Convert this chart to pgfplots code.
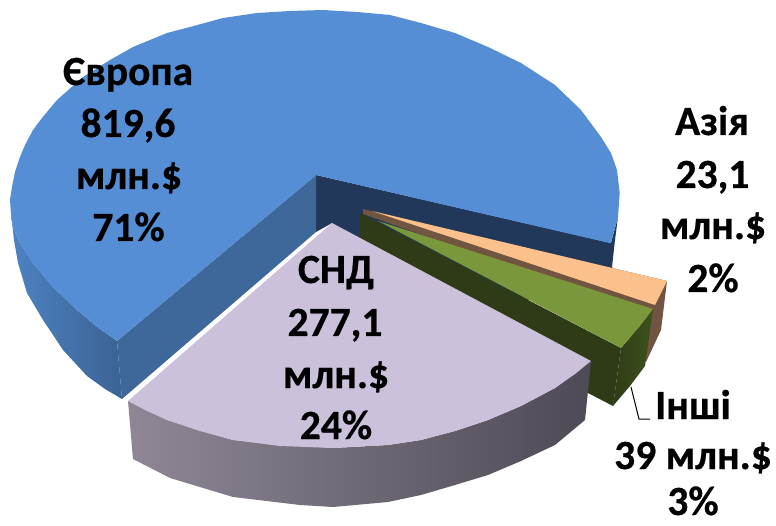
\documentclass[border=0pt]{standalone}
\usepackage{pgfplots}
\pgfplotsset{compat=1.18}
\usepackage{fontspec}
\setmainfont[BoldFeatures={FakeBold=0.6}]{Carlito}
\definecolor{eutop}{HTML}{558ED5}
\definecolor{euinner}{HTML}{3E6899}
\definecolor{euback}{HTML}{21385A}
\definecolor{euwalla}{HTML}{4D82C2}
\definecolor{euwallb}{HTML}{3B6394}
\definecolor{astop}{HTML}{FCC08C}
\definecolor{asdark}{HTML}{725540}
\definecolor{grtop}{HTML}{7A983B}
\definecolor{grdark}{HTML}{2F3B16}
\definecolor{grwall}{HTML}{3D521D}
\definecolor{litop}{HTML}{CCC1DA}
\definecolor{liwalla}{HTML}{8F8796}
\definecolor{liwallb}{HTML}{4E4A55}
\newcommand{\lab}[3]{\node[anchor=base,inner sep=0pt,font=\fontsize{41.5}{41.5}\selectfont\bfseries] at (axis cs:#1,#2) {#3};}
\begin{document}
\begin{tikzpicture}
\begin{axis}[scale only axis,width=776pt,height=526pt,xmin=0,xmax=776,ymin=0,ymax=526,
  y dir=reverse,hide axis,clip=false]
\path (axis cs:0,0) rectangle (axis cs:776,526);
% Europe back wall
\addplot[draw=none,fill=euback] coordinates {(316,175)(611,243)(618,217)(615,240)(612,267)(640,300)(360,300)(332,223)(316,232)} -- cycle;
% Europe inner face
\addplot[draw=none,fill=euinner] coordinates {(316,175)(316,232)(122,399)(117,341)} -- cycle;
% Europe outer wall
\addplot[draw=none,left color=euwalla,right color=euwallb] coordinates {(11,214)(13,227)(20,243)(33,263)(53,287)(77,310)(96,326)(117,341)(122,399)(105,389)(87,376)(63,350)(43,320)(27,293)(18,263)(14,240)} -- cycle;
% Europe top
\addplot[draw=none,fill=eutop] coordinates {(316,175)(610.7,243.3)(618,217)(619.7,193)(617,170)(611,153)(601,137)(581,110)(555,85)(521,63)(488,47)(455,33)(421,23)(390,15)(357,12)(323,10)(290,11)(257,13)(223,18)(190,27)(167,33)(133,47)(110,60)(83,77)(57,100)(42,118)(33,130)(25,145)(20,157)(15,172)(12,187)(10,200)(11,214)(13,227)(20,243)(33,263)(53,287)(77,310)(96,326)(117,341)} -- cycle;
% Asia
\addplot[draw=none,fill=asdark] coordinates {(363,209)(667,281)(661,330)(646,362)(630,340)(640,312)(363,214)} -- cycle;
\addplot[draw=none,fill=astop] coordinates {(372,211)(667,281)(655,305)} -- cycle;
% Other
\addplot[draw=none,fill=grdark] coordinates {(360,213)(621,348)(613,406)(588,393)(360,300)} -- cycle;
\addplot[draw=none,left color=grdark,right color=grwall] coordinates {(621,348)(640,326)(653,309)(645,366)(630,386)(613,406)} -- cycle;
\addplot[draw=none,fill=grtop] coordinates {(378,221)(653,309)(640,326)(621,348)} -- cycle;
% CIS wall
\addplot[draw=none,left color=liwalla,right color=liwallb] coordinates {(128,401)(167,420)(233,440)(333,448)(388,445)(421,440)(455,431)(488,420)(521,406)(555,388)(591,361)(588,391)(585,420)(555,445)(521,461)(488,475)(455,485)(421,495)(388,502)(333,507)(300,505)(233,497)(170,478)(133,459)} -- cycle;
% CIS top
\addplot[draw=none,fill=litop] coordinates {(332,223)(128,401)(145,410)(167,420)(200,431)(233,440)(280,446)(333,448)(388,445)(421,440)(455,431)(488,420)(521,406)(555,388)(575,374)(591,361)} -- cycle;
% Leader
\addplot[black,line width=1pt] coordinates {(631,387)(639,419)(650,419)};
\lab{128}{85}{Європа}
\lab{128}{137}{819,6}
\lab{129}{189}{млн.\$}
\lab{128.5}{241}{71\%}
\lab{712}{135}{Азія}
\lab{712.5}{188}{23,1}
\lab{713}{239}{млн.\$}
\lab{713}{292}{2\%}
\lab{336}{283}{СНД}
\lab{335}{336}{277,1}
\lab{336}{388}{млн.\$}
\lab{336}{439}{24\%}
\lab{693}{419}{Інші}
\lab{693}{469}{39 млн.\$}
\lab{693}{515}{3\%}
\end{axis}
\end{tikzpicture}
\end{document}
